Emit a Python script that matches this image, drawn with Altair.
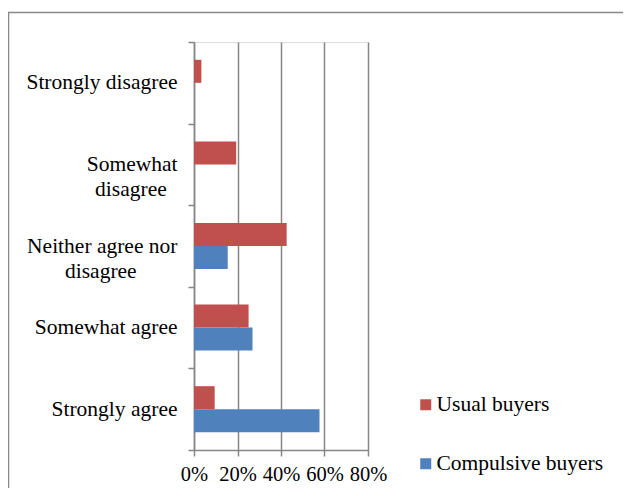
import altair as alt
import pandas as pd
import json

categories = ["Strongly disagree", "Somewhat disagree", "Neither agree nor disagree", "Somewhat agree", "Strongly agree"]
category_labels = ["Strongly disagree", "Somewhat\ndisagree", "Neither agree nor\ndisagree", "Somewhat agree", "Strongly agree"]
usual = [0.034, 0.194, 0.426, 0.251, 0.095]
compulsive = [0.0, 0.0, 0.155, 0.269, 0.577]
series = ["Usual buyers", "Compulsive buyers"]
colors = ["#C0504D", "#4F81BD"]
x_ticks = [0, 0.2, 0.4, 0.6, 0.8]

rows = []
for lab, u, c in zip(category_labels, usual, compulsive):
    rows.append({"cat": lab, "series": series[0], "value": u})
    rows.append({"cat": lab, "series": series[1], "value": c})
df = pd.DataFrame(rows)

# centre wrapped second lines (Excel style) by padding with figure / thin spaces
FIG = "\u2007"
THIN = "\u2009"
pad = {"Somewhat\ndisagree": FIG, "Neither agree nor\ndisagree": FIG * 3 + THIN * 2}
display = {}
for lab in category_labels:
    parts = lab.split("\n")
    if len(parts) > 1:
        parts[1] = parts[1] + pad.get(lab, "") + "\u2060"
    display[lab] = parts
label_expr = json.dumps(display, ensure_ascii=False) + "[datum.label]"

FONT = "Liberation Serif, Times New Roman, serif"
GRAY = "#868686"

bars = alt.Chart(df).mark_bar().encode(
    y=alt.Y("cat:N", sort=category_labels,
            scale=alt.Scale(paddingInner=0, paddingOuter=0),
            axis=alt.Axis(title=None, labelExpr=label_expr,
                          labelFont=FONT, labelFontSize=21.5, labelColor="#000000",
                          labelLineHeight=25, labelPadding=11, labelLimit=300,
                          tickBand="extent", tickSize=6, tickColor=GRAY, tickWidth=1.5,
                          domainColor=GRAY, domainWidth=1.5, grid=False)),
    yOffset=alt.YOffset("series:N", sort=series,
                        scale=alt.Scale(paddingInner=0, paddingOuter=0.774)),
    x=alt.X("value:Q", scale=alt.Scale(domain=[0, 0.8], nice=False),
            axis=alt.Axis(title=None, values=x_ticks, format=".0%",
                          labelFont=FONT, labelFontSize=20.5, labelColor="#000000",
                          labelOverlap=False, labelFlush=False,
                          labelPadding=8, tickSize=6, tickColor=GRAY, tickWidth=1.5,
                          domainColor=GRAY, domainWidth=1.5,
                          grid=True, gridColor=GRAY, gridWidth=1.5)),
    color=alt.Color("series:N", sort=series,
                    scale=alt.Scale(domain=series, range=colors),
                    legend=alt.Legend(title=None, orient="none", legendX=221, legendY=352,
                                      symbolType="square", symbolSize=121, symbolStrokeWidth=0,
                                      labelFont=FONT, labelFontSize=21.5, labelColor="#000000",
                                      labelOffset=0, rowPadding=36, padding=0,
                                      labelLimit=300)),
)

border = alt.Chart(pd.DataFrame({"a": [0]})).mark_rect(
    fill=None, stroke="#898989", strokeWidth=1.5
).encode(
    x=alt.value(-185.5), x2=alt.value(600), y=alt.value(-29.5), y2=alt.value(600)
)

chart = alt.layer(bars, border).properties(
    width=174, height=408,
    autosize=alt.AutoSizeParams(type="none"),
    padding={"left": 186, "top": 34, "right": 255, "bottom": 38},
).configure_view(stroke=None).configure(background="white")

chart.save("out.html", embed_options={"renderer": "svg", "actions": False})
